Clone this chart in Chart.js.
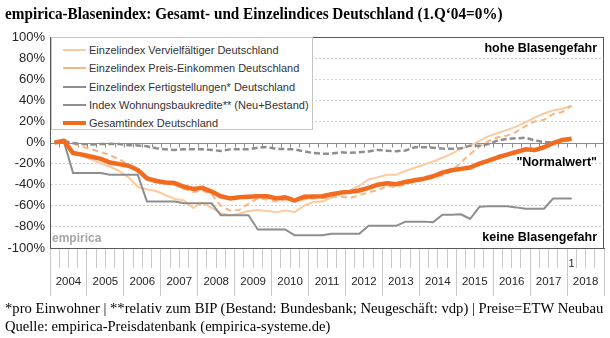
<!DOCTYPE html>
<html>
<head>
<meta charset="utf-8">
<script src="https://cdn.jsdelivr.net/npm/chart.js@4.4.0/dist/chart.umd.min.js"></script>
<style>
  body { margin: 0; background: #fff; }
  #wrap { position: relative; width: 610px; height: 338px; overflow: hidden; }
  #wrap canvas { position: absolute; left: 0; top: 0; }
  .title { position: absolute; left: 5px; top: 4px; font: bold 17px "Liberation Serif", serif; color: #000; white-space: nowrap; transform-origin: left center; }
  .note { position: absolute; left: 5px; font: 14.5px "Liberation Serif", serif; color: #000; white-space: nowrap; line-height: 16px; transform-origin: left center; }
  .tag { position: absolute; font: bold 12.5px "Liberation Sans", Arial, sans-serif; color: #000; white-space: nowrap; line-height: 14px; }
  #legend { position: absolute; left: 51px; top: 37px; width: 262px; height: 93px; border: 1px solid #c4c4c4; background: #fff; box-sizing: border-box; padding-top: 3px; }
  .row { display: flex; align-items: center; height: 18.3px; font: 11px "Liberation Sans", Arial, sans-serif; color: #333; white-space: nowrap; }
  .swatch { width: 23px; margin: 0 3px 0 11px; }
</style>
</head>
<body>
<div id="wrap">
  <canvas id="chart" width="610" height="338"></canvas>
  <div class="title" id="title">empirica-Blasenindex: Gesamt- und Einzelindices Deutschland (1.Q‘04=0%)</div>
  <div id="legend"></div>
  <div class="tag" style="right:13px; top:41px;">hohe Blasengefahr</div>
  <div class="tag" style="right:13px; top:155px;">"Normalwert"</div>
  <div class="tag" style="right:13px; top:230px;">keine Blasengefahr</div>
  <div class="tag" style="left:52px; top:231px; color:#a6a6a6; font-size:12px;">empirica</div>
  <div class="note" id="note1" style="top:300px;">*pro Einwohner | **relativ zum BIP (Bestand: Bundesbank; Neugeschäft: vdp) | Preise=ETW Neubau</div>
  <div class="note" id="note2" style="top:318px;">Quelle: empirica-Preisdatenbank (empirica-systeme.de)</div>
</div>
<script>
const years = ["2004", "2005", "2006", "2007", "2008", "2009", "2010", "2011", "2012", "2013", "2014", "2015", "2016", "2017", "2018"];
const quarters = ["Q1", "Q2", "Q3", "Q4"];
const markedQuarter = "2018 Q1";

// quarterly values from 2004 Q1 to 2018 Q1, in % vs. 1.Q'04
const vervielfaeltiger = [0, 3.5, -9, -13, -16, -20, -23, -27, -33, -42,
  -44.5, -46, -50, -53.5, -55, -62, -57, -62, -67, -69,
  -67.5, -65, -64, -65, -66, -64.5, -66, -60, -56.5, -56,
  -52, -48.5, -45.5, -41, -35, -33, -30.5, -30.5, -27, -24,
  -21, -18, -14.5, -10.5, -6, -3, 1.5, 6, 9, 12,
  15, 19, 23.5, 27.5, 30.5, 32, 35];
const preisEinkommen = [0, 3, -1, -4, -6.5, -9, -12, -16, -21, -28,
  -33, -35, -38, -40, -44, -47, -45.5, -49, -60, -64.5,
  -64, -58, -53, -54, -56, -54, -55, -54, -53, -52.5,
  -52, -51.5, -52.5, -50, -47, -45.5, -41, -42.5, -39.5, -37,
  -35.5, -33.5, -31, -27, -19, -11, -4, 1.5, 5, 6.5,
  10, 15.5, 20, 21.5, 27, 29, 35];
const fertigstellungen = [0, 1, -29, -29, -29, -29, -30.5, -30.5, -30.5, -30.5,
  -56, -56, -56, -56, -57.5, -57.5, -57.5, -57.5, -69, -69,
  -69, -69, -82.5, -82.5, -82.5, -82.5, -88, -88, -88, -88,
  -86.5, -86.5, -86.5, -86.5, -79, -79, -79, -79, -75, -75,
  -75, -75.5, -68.5, -68.5, -68, -72.5, -61, -60.5, -60.5, -60.5,
  -61.5, -62.8, -62.8, -62.8, -53, -53, -53];
const kredite = [0, 1, -0.5, -1.5, -2, -1.5, -1.3, -1.5, -2.5, -2.8,
  -3.5, -5.5, -6.5, -7, -6.5, -6.3, -6.5, -7, -8, -6.5,
  -6.3, -6.3, -5, -4.2, -6, -6.3, -6.5, -8.3, -10, -10.7,
  -10.5, -9.3, -9.8, -9.3, -8.5, -7, -7.8, -8.2, -7.6, -4.5,
  -4.4, -5, -5.8, -6, -5.5, -3, -3, -1.5, 2, 3.3,
  4, 4.5, 2, 0.5, 0, 1.5, 2.5];
const gesamt = [0, 1.5, -10, -11.5, -13.5, -15.5, -19, -20.5, -22, -26,
  -34, -36.5, -38, -38.5, -42, -44, -43, -46.5, -51, -53,
  -52, -51.5, -51, -51, -53, -52, -55, -51.5, -51.3, -51,
  -49, -47.5, -46.8, -45.5, -43, -40, -38.7, -39.5, -37.5, -35.8,
  -34.3, -32, -28.5, -26.3, -25, -23.7, -20, -17.2, -14, -11.5,
  -9, -6.5, -7.2, -4.5, -0.5, 2.5, 3.5];

const quarterLabels = years.flatMap((y) => quarters.map((q) => y + " " + q));

const axisFont = { family: "Liberation Sans", size: 13 };

// plot frame plus the 0% line with its quarter ticks
const frame = {
  id: "frame",
  beforeDatasetsDraw(chart) {
    const { ctx, chartArea: a, scales } = chart;
    const y0 = Math.round(scales.y.getPixelForValue(0)) + 0.5;
    const n = scales.x.ticks.length;
    const step = (a.right - a.left) / n;
    ctx.save();
    ctx.strokeStyle = "#8c8c8c";
    ctx.lineWidth = 1;
    ctx.beginPath();
    ctx.moveTo(a.left, y0);
    ctx.lineTo(a.right, y0);
    for (let i = 1; i < n; i++) {
      const x = Math.round(a.left + i * step) + 0.5;
      ctx.moveTo(x, y0);
      ctx.lineTo(x, y0 + 4);
    }
    ctx.stroke();
    ctx.strokeStyle = "#595959";
    ctx.strokeRect(a.left + 0.5, a.top + 0.5, a.right - a.left - 1, a.bottom - a.top);
    ctx.restore();
  },
};

const chart = new Chart(document.getElementById("chart"), {
  type: "line",
  data: {
    labels: quarterLabels,
    datasets: [
      {
        label: "Einzelindex Vervielfältiger Deutschland",
        data: vervielfaeltiger,
        borderColor: "#fcca9f",
        borderWidth: 2,
        order: 4,
      },
      {
        label: "Einzelindex Preis-Einkommen Deutschland",
        data: preisEinkommen,
        borderColor: "#f7b684",
        borderWidth: 2,
        borderDash: [6, 4],
        order: 3,
      },
      {
        label: "Einzelindex Fertigstellungen* Deutschland",
        data: fertigstellungen,
        borderColor: "#8e8e8e",
        borderWidth: 2,
        order: 2,
      },
      {
        label: "Index Wohnungsbaukredite** (Neu+Bestand)",
        data: kredite,
        borderColor: "#8e8e8e",
        borderWidth: 2.5,
        borderDash: [6, 3],
        order: 1,
      },
      {
        label: "Gesamtindex Deutschland",
        data: gesamt,
        borderColor: "#f26b1f",
        borderWidth: 4.5,
        order: 0,
      },
    ],
  },
  options: {
    responsive: false,
    animation: false,
    elements: {
      point: { radius: 0 },
      line: { tension: 0, borderCapStyle: "butt", borderJoinStyle: "round" },
    },
    layout: { padding: { top: 37, right: 6, bottom: 42, left: 0 } },
    scales: {
      x: {
        type: "category",
        position: "bottom",
        offset: true,
        grid: { offset: true, drawOnChartArea: false, drawTicks: true, tickLength: 20, color: "#c8c8c8" },
        border: { color: "#595959" },
        ticks: {
          autoSkip: false,
          maxRotation: 0,
          padding: -11,
          color: "#262626",
          font: { family: "Liberation Sans", size: 11 },
          callback(value) {
            return this.getLabelForValue(value) === markedQuarter ? "1" : "";
          },
        },
        afterFit: (scale) => {
          scale.height = 20;
        },
      },
      xYear: {
        type: "category",
        labels: years,
        position: "bottom",
        offset: true,
        grid: { offset: true, drawOnChartArea: false, drawTicks: true, tickLength: 28, color: "#c8c8c8" },
        border: { display: false },
        ticks: {
          autoSkip: false,
          maxRotation: 0,
          padding: -21,
          color: "#262626",
          font: { family: "Liberation Sans", size: 11.5 },
        },
        afterFit: (scale) => {
          scale.height = 28;
        },
      },
      y: {
        min: -100,
        max: 100,
        ticks: {
          stepSize: 20,
          padding: 5,
          color: "#262626",
          font: axisFont,
          callback: (v) => v + "%",
        },
        grid: {
          drawTicks: false,
          color: (ctx) => (ctx.tick && ctx.tick.value === 0 ? "rgba(0,0,0,0)" : "#d2d2d2"),
        },
        border: { color: "#595959", dash: [2, 2] },
        afterFit: (scale) => {
          scale.width = 50;
        },
      },
    },
    plugins: {
      legend: { display: false },
      tooltip: { enabled: false },
    },
  },
  plugins: [frame],
});

// legend box inside the plot, built from the datasets
const legendEl = document.getElementById("legend");
chart.data.datasets.forEach((ds) => {
  const row = document.createElement("div");
  row.className = "row";
  const sw = document.createElement("div");
  sw.className = "swatch";
  sw.style.height = Math.min(ds.borderWidth, 4) + "px";
  sw.style.background = ds.borderColor;
  const txt = document.createElement("span");
  txt.textContent = ds.label;
  row.appendChild(sw);
  row.appendChild(txt);
  legendEl.appendChild(row);
});

const fitWidth = (id, w) => {
  const el = document.getElementById(id);
  el.style.transform = "scaleX(" + w / el.offsetWidth + ")";
};
fitWidth("title", 498);
fitWidth("note1", 598);
fitWidth("note2", 325);
</script>
</body>
</html>
